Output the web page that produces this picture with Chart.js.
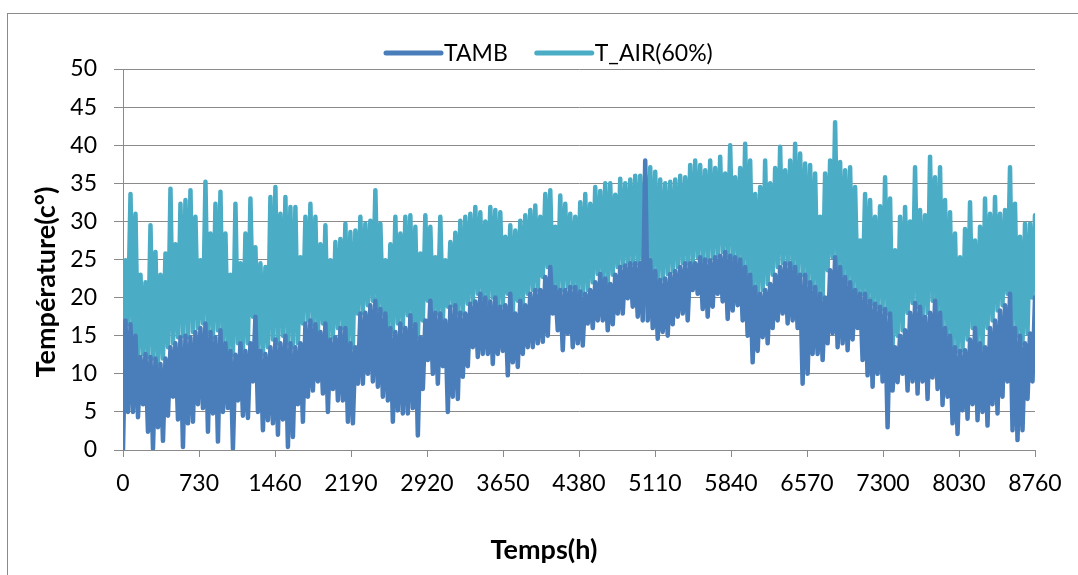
<!DOCTYPE html>
<html>
<head>
<meta charset="utf-8">
<script src="https://cdn.jsdelivr.net/npm/chart.js@4.4.0/dist/chart.umd.min.js"></script>
<style>
body { margin: 0; background: #fff; }
</style>
</head>
<body>
<canvas id="myChart" width="1078" height="575"></canvas>
<script>
// valeurs : un echantillon toutes les 48 h (creux a 48*i, pic a 48*i+24)
var tambLo = [
  0, 5, 5, 4.3, 6, 2.4, 0.2, 3, 1.2, 4.5,
  7, 4, 0.4, 3.5, 3.7, 6, 5.5, 2.4, 4.8, 1.1,
  5, 5.5, 0.2, 6.5, 4.5, 4.2, 9, 5, 2.6, 3.9,
  3.5, 2, 4, 0.4, 1.7, 6, 3.7, 7, 7.8, 9,
  7.4, 5, 8, 6.5, 6.5, 3.7, 3.5, 8.7, 8.7, 10,
  9, 8.3, 7, 6.5, 3.7, 5.2, 4.8, 4.8, 5.5, 1.9,
  8, 11.8, 10, 8.7, 11, 5, 7, 6.7, 9.6, 11,
  13.5, 12.2, 12.6, 12.6, 11.3, 12.6, 13, 9.8, 11.5, 10.9,
  12.6, 13.5, 13.5, 14, 14.2, 15, 17.9, 15.7, 13.1, 15.3,
  13.5, 14, 13.7, 16.6, 16, 17, 17, 15.7, 16.5, 17.9,
  17.9, 19.9, 18.8, 17.5, 17, 17, 16, 14.6, 15.5, 15,
  16.5, 17.5, 17.9, 17, 21, 20.5, 18.5, 17.5, 18.8, 20.5,
  19.5, 17.2, 18.3, 19, 17, 15, 11.5, 13, 14.8, 14,
  16, 17, 17.9, 16.6, 17, 16, 8.7, 10, 12.6, 12.6,
  11.8, 14, 15.3, 13.5, 14, 13.1, 14.5, 16, 11.8, 9.8,
  8.3, 10, 9, 3, 7.8, 8.9, 10, 7.8, 9, 7.4,
  9, 6.7, 9.5, 8, 5.9, 7, 3.5, 2.1, 5.2, 4.1,
  6, 3.9, 5, 3.2, 6, 4.8, 7, 9, 2.6, 1.3,
  2.6, 6.7, 9
];
var tambHi = [
  17, 16.5, 15, 12.2, 12.6, 12.2, 12, 11.3, 12, 13.5,
  14, 14.8, 15, 14.8, 15.5, 16, 16.6, 15.5, 14.8, 15.7,
  14, 13, 12.5, 14, 13, 14, 17.5, 13, 12.6, 13.5,
  14.5, 14, 15, 14, 13.5, 14, 16.6, 17, 16.5, 15.5,
  16.6, 14.5, 14.8, 16, 16, 14, 13.5, 17.9, 18, 19,
  19.6, 18.5, 17.9, 16, 15.5, 16.6, 16, 17.7, 16.5, 14.8,
  17, 19.6, 18, 17.9, 17, 18.8, 19, 18, 17.9, 19.2,
  19.5, 20.5, 20, 19.5, 20, 18.8, 19, 20.5, 17.9, 19.6,
  19, 20.5, 21, 21, 22.7, 24, 21.4, 21, 21, 21.4,
  21.4, 20.8, 20.5, 21, 22, 23.1, 22.5, 21.8, 23, 24,
  24.2, 24.5, 24.5, 24.5, 38, 24.9, 23.5, 22.3, 22.5, 23.1,
  23.5, 24, 24.5, 24.5, 24.5, 25.3, 25, 24.9, 25.3, 25.5,
  26, 25.5, 25.3, 25, 24, 23, 21.4, 20.5, 21, 21.8,
  23, 24, 24.5, 24.5, 24, 23, 23, 22, 21.4, 20.5,
  20, 23.6, 25.3, 24, 22.7, 22, 21, 20.5, 20.5, 19.6,
  19.2, 18.8, 18.5, 17.9, 13.5, 15, 15.7, 18, 19.3, 18.8,
  17.5, 18, 19.6, 18, 16, 15, 13.5, 13, 13.1, 14.5,
  16, 14, 13.5, 16, 17, 18.3, 19, 20.5, 16, 15,
  14, 15.3, 20
];
// creux de T_AIR : caches sous TAMB, estimes au niveau du haut de TAMB
var tairLo = [
  17, 16.5, 15, 12.2, 12.6, 12.2, 12, 11.3, 12, 13.5,
  14, 14.8, 15, 14.8, 15.5, 16, 16.6, 15.5, 14.8, 15.7,
  14, 13, 12.5, 14, 13, 14, 17.5, 13, 12.6, 13.5,
  14.5, 14, 15, 14, 13.5, 14, 16.6, 17, 16.5, 15.5,
  16.6, 14.5, 14.8, 16, 16, 14, 13.5, 17.9, 18, 19,
  19.6, 18.5, 17.9, 16, 15.5, 16.6, 16, 17.7, 16.5, 14.8,
  17, 19.6, 18, 17.9, 17, 18.8, 19, 18, 17.9, 19.2,
  19.5, 20.5, 20, 19.5, 20, 18.8, 19, 20.5, 17.9, 19.6,
  19, 20.5, 21, 21, 22.7, 24, 21.4, 21, 21, 21.4,
  21.4, 20.8, 20.5, 21, 22, 23.1, 22.5, 21.8, 23, 24,
  24.2, 24.5, 24.5, 24.5, 24, 24.9, 23.5, 22.3, 22.5, 23.1,
  23.5, 24, 24.5, 24.5, 24.5, 25.3, 25, 24.9, 25.3, 25.5,
  26, 25.5, 25.3, 25, 24, 23, 21.4, 20.5, 21, 21.8,
  23, 24, 24.5, 24.5, 24, 23, 23, 22, 21.4, 20.5,
  20, 23.6, 25.3, 24, 22.7, 22, 21, 20.5, 20.5, 19.6,
  19.2, 18.8, 18.5, 17.9, 13.5, 15, 15.7, 18, 19.3, 18.8,
  17.5, 18, 19.6, 18, 16, 15, 13.5, 13, 13.1, 14.5,
  16, 14, 13.5, 16, 17, 18.3, 19, 20.5, 16, 15,
  14, 15.3, 20
];
var tairHi = [
  24.9, 33.6, 31, 23, 22, 29.5, 26, 23, 25.8, 34.3,
  27, 32.3, 32.8, 34.1, 30.6, 24.9, 35.2, 28.4, 32.3, 33.9,
  28.4, 23, 32.3, 24.5, 28.4, 33, 26.6, 24.5, 24, 33.2,
  34.5, 31, 33.2, 31.9, 31.9, 25.3, 30.6, 32.3, 30.6, 27,
  29.5, 24.9, 27.3, 27.7, 29.7, 28.6, 28.8, 30.6, 29.7, 30.1,
  34.1, 29.7, 24.9, 27, 30.6, 28.4, 30.6, 30.8, 29.3, 25.8,
  30.8, 29.3, 25.3, 30.6, 24.9, 27.3, 28.5, 30.1, 30.6, 31,
  31.9, 31.2, 30, 31.9, 31.5, 31.2, 28, 29.5, 28.8, 30.1,
  30.8, 31.5, 32.1, 30.6, 33.6, 34.1, 29.3, 33.4, 32.3, 31,
  30.6, 32.5, 33.6, 32.3, 34.5, 34, 35, 35, 33.5, 35.6,
  35, 35.5, 36, 36, 36, 37.1, 36.5, 35.5, 35, 35.2,
  35.5, 36, 35.8, 37.4, 38, 37.4, 36.7, 38, 37, 38.5,
  36.3, 40, 35.8, 37, 40.2, 38, 33.6, 34.5, 38, 35,
  37, 39.8, 36.7, 38, 40.2, 38.9, 37.6, 37.4, 36.3, 30.6,
  36.3, 38, 43, 37.8, 36.7, 37.1, 34.5, 27.5, 33.6, 32.8,
  30.6, 32, 35.8, 33, 26.2, 30.6, 31.9, 30, 37.1, 31.5,
  30.8, 38.5, 35.8, 37.1, 32.8, 31.2, 28.4, 25.3, 29, 32.5,
  27.5, 29.3, 33, 31, 33.2, 31, 31.5, 37.1, 32.3, 28,
  29.7, 29.7, 30.8
];
var xTicks = [0, 730, 1460, 2190, 2920, 3650, 4380, 5110, 5840, 6570, 7300, 8030, 8760];
var seriesNames = ['TAMB', 'T_AIR(60%)'];
var seriesColors = ['#4a7ebb', '#4bacc6'];

function zigzag(lo, hi) {
  var pts = [];
  for (var i = 0; i < lo.length; i++) {
    pts.push({x: i * 48, y: lo[i]});
    pts.push({x: i * 48 + 24, y: hi[i]});
  }
  return pts;
}

// cadre, legende et titres des axes
var decor = {
  id: 'decor',
  beforeDraw: function(chart) {
    var c = chart.ctx;
    c.save();
    c.strokeStyle = '#8a8a8a';
    c.lineWidth = 1;
    c.strokeRect(7.5, 13.5, 1200, 1000);
    c.restore();
  },
  afterDraw: function(chart) {
    var c = chart.ctx;
    c.save();
    c.font = '23px Lato';
    c.textBaseline = 'middle';
    c.fillStyle = '#000';
    c.lineCap = 'round';
    c.lineWidth = 5;
    var x = 386, y = 53;
    for (var i = 0; i < seriesNames.length; i++) {
      c.strokeStyle = seriesColors[i];
      c.beginPath();
      c.moveTo(x, y);
      c.lineTo(x + 55, y);
      c.stroke();
      c.fillText(seriesNames[i], x + 58, y + 1);
      x += 58 + c.measureText(seriesNames[i]).width + 29;
    }
    c.font = 'bold 27px Lato';
    c.textAlign = 'center';
    c.fillText('Temps(h)', 544, 550);
    c.translate(46, 282);
    c.rotate(-Math.PI / 2);
    c.fillText('Température(c°)', 0, 0);
    c.restore();
  }
};

Chart.defaults.font.family = 'Lato';
Chart.defaults.color = '#000';

var ctx = document.getElementById('myChart').getContext('2d');
var myChart = new Chart(ctx, {
  type: 'line',
  data: {
    datasets: [{
      label: seriesNames[0],
      data: zigzag(tambLo, tambHi),
      borderColor: seriesColors[0],
      backgroundColor: seriesColors[0],
      borderWidth: 4.5,
      borderCapStyle: 'round',
      borderJoinStyle: 'round',
      pointRadius: 0,
      tension: 0
    }, {
      label: seriesNames[1],
      data: zigzag(tairLo, tairHi),
      borderColor: seriesColors[1],
      backgroundColor: seriesColors[1],
      borderWidth: 4.5,
      borderCapStyle: 'round',
      borderJoinStyle: 'round',
      pointRadius: 0,
      tension: 0
    }]
  },
  options: {
    responsive: false,
    animation: false,
    layout: { padding: { top: 69, right: 43, left: 0, bottom: 0 } },
    plugins: { legend: { display: false }, tooltip: { enabled: false } },
    scales: {
      x: {
        type: 'linear',
        min: 0,
        max: 8760,
        afterBuildTicks: function(s) { s.ticks = xTicks.map(function(v) { return {value: v}; }); },
        afterFit: function(s) { s.height = 125; },
        grid: { drawOnChartArea: false, color: '#8a8a8a', tickLength: 7 },
        border: { color: '#8a8a8a' },
        ticks: {
          font: { size: 23 }, padding: 13, maxRotation: 0, autoSkip: false,
          callback: function(v) { return String(v); }
        }
      },
      y: {
        min: 0,
        max: 50,
        afterFit: function(s) { s.width = 123; },
        grid: { color: '#8a8a8a', tickLength: 9 },
        border: { color: '#8a8a8a' },
        ticks: { stepSize: 5, font: { size: 23 }, padding: 17, callback: function(v) { return String(v); } }
      }
    }
  },
  plugins: [decor]
});
</script>
</body>
</html>
